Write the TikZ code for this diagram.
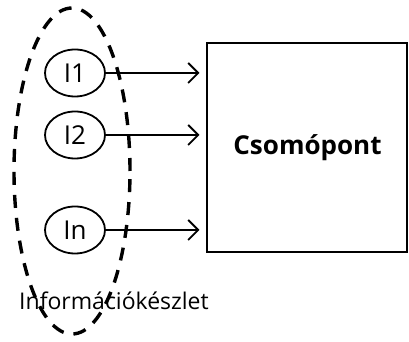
\documentclass[tikz,border=0pt]{standalone}
\usepackage{fontspec}
\setmainfont{Open Sans}
\usetikzlibrary{shapes.geometric}
\usetikzlibrary{arrows.meta, positioning}

\begin{document}
\begin{tikzpicture}[x=0.5pt, y=-0.5pt,
  info/.style={draw, ellipse, line width=0.9pt, minimum width=30pt,
    minimum height=23.5pt, inner sep=0pt, font=\fontsize{13}{15}\selectfont},
  feed/.style={-{Straight Barb[length=5pt, width=10pt, line width=0.9pt]}, line width=0.9pt}]
  \useasboundingbox (0,0) rectangle (409,342);
  \node[draw, ellipse, dashed, line width=1.7pt, dash pattern=on 6.5pt off 5pt,
    minimum width=58pt, minimum height=163pt, inner sep=0pt] (set) at (72,171) {};
  \node[info] (i1) at (75,73) {I1};
  \node[info] (i2) at (75,135) {I2};
  \node[info] (in) at (75,230) {In};
  \node[draw, line width=1pt, minimum width=100pt, minimum height=104.5pt,
    font=\bfseries\fontsize{13}{15}\selectfont] (node) at (307.5,147.5) {Csomópont};
  \node[font=\fontsize{11.5}{14}\selectfont] (label) at (114,301) {Információkészlet};
  \draw[feed] (i1.east) -- ([xshift=-3.5pt]i1 -| node.west);
  \draw[feed] (i2.east) -- ([xshift=-3.5pt]i2 -| node.west);
  \draw[feed] (in.east) -- ([xshift=-3.5pt]in -| node.west);
\end{tikzpicture}
\end{document}
